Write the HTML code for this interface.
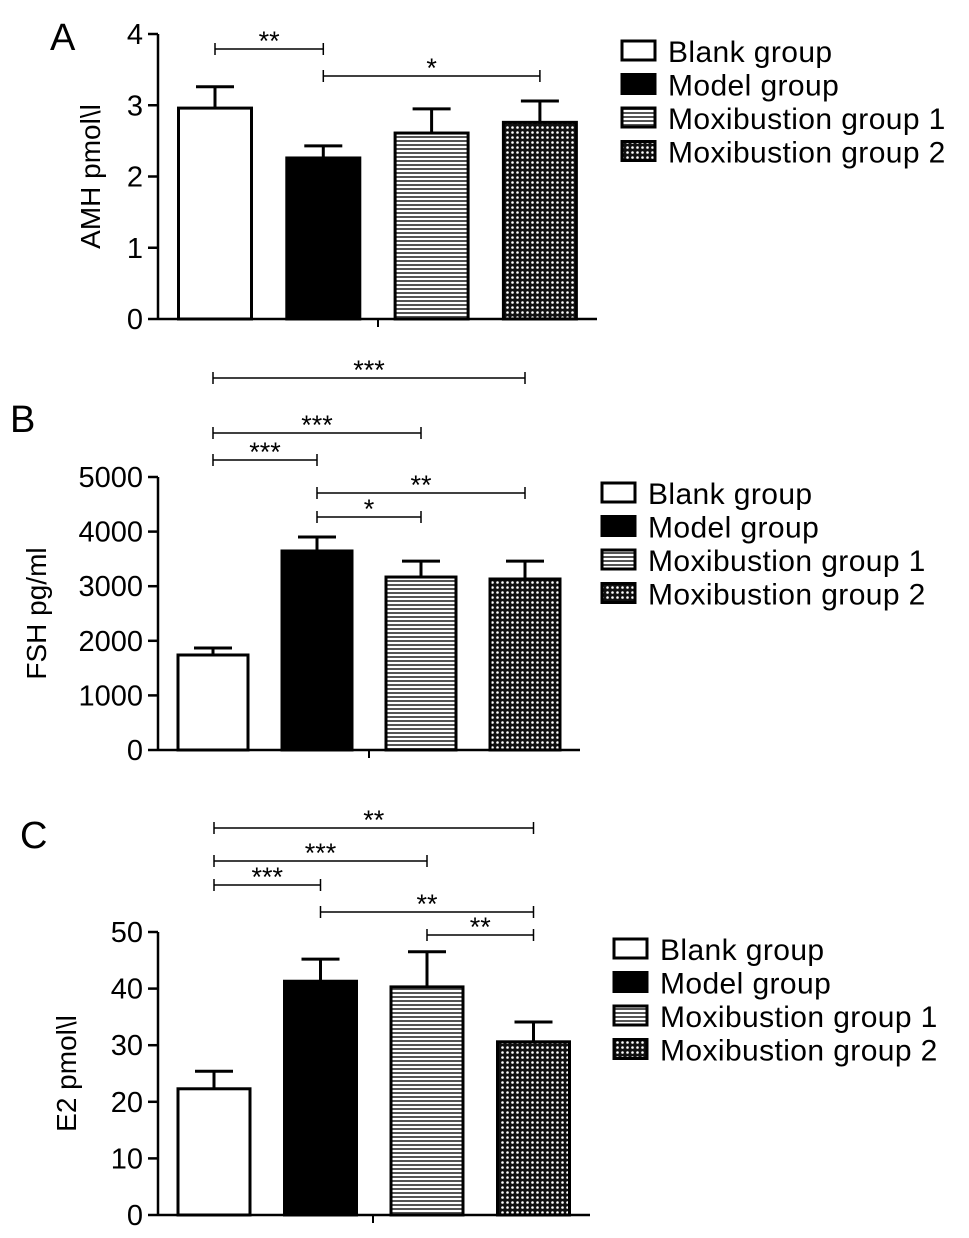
<!DOCTYPE html>
<html><head><meta charset="utf-8"><style>
body{margin:0;background:#fff}
svg{display:block}
text{font-family:"Liberation Sans",sans-serif;fill:#000}
</style></head><body>
<svg id="s" width="969" height="1238" viewBox="0 0 969 1238">
<defs>
<pattern id="stripe" width="8" height="4" patternUnits="userSpaceOnUse"><rect width="8" height="4" fill="#fff"/><rect width="8" height="2" fill="#555"/></pattern>
<pattern id="check" width="5" height="5" patternUnits="userSpaceOnUse"><rect width="5" height="5" fill="#111"/><circle cx="2.5" cy="2.5" r="1.3" fill="#fff"/></pattern>
</defs>
</svg>
<script>
const groups=["Blank group","Model group","Moxibustion group 1","Moxibustion group 2"];
const amhMean=[2.96,2.26,2.61,2.76];
const amhErr=[0.30,0.17,0.34,0.30];
const fshMean=[1740,3645,3168,3132];
const fshErr=[128,255,292,328];
const e2Mean=[22.3,41.3,40.3,30.6];
const e2Err=[3.1,3.9,6.2,3.5];
const amhTicks=[0,1,2,3,4];
const fshTicks=[0,1000,2000,3000,4000,5000];
const e2Ticks=[0,10,20,30,40,50];
const amhSig=[[0,1,"**"],[1,3,"*"]];
const fshSig=[[0,3,"***"],[0,2,"***"],[0,1,"***"],[1,3,"**"],[1,2,"*"]];
const e2Sig=[[0,3,"**"],[0,2,"***"],[0,1,"***"],[1,3,"**"],[2,3,"**"]];
const fills=["#fff","#000","url(#stripe)","url(#check)"];
const NS="http://www.w3.org/2000/svg";
const svg=document.getElementById('s');
function mk(t,a,p){const e=document.createElementNS(NS,t);for(const k in a)e.setAttribute(k,a[k]);(p||svg).appendChild(e);return e;}
function panel(o){
 const g=mk('g',{});
 
 
 const max=o.ticks[o.ticks.length-1];
 const y=v=>o.y0-(v/max)*(o.y0-o.yTop);
 const lt=mk('text',{x:o.letter[0],y:o.letter[1],'font-size':38},g);lt.textContent=o.lbl;
 
 mk('line',{x1:158,y1:o.yTop,x2:158,y2:o.y0,stroke:'#000','stroke-width':2.5},g);
 mk('line',{x1:158,y1:o.y0,x2:o.xEnd,y2:o.y0,stroke:'#000','stroke-width':2.5},g);
 mk('line',{x1:o.mid,y1:o.y0,x2:o.mid,y2:o.y0+8,stroke:'#000','stroke-width':2},g);
 o.ticks.forEach(t=>{mk('line',{x1:148,y1:y(t),x2:158,y2:y(t),stroke:'#000','stroke-width':2.5},g);
  const tx=mk('text',{x:143,y:y(t)+10,'font-size':29,'text-anchor':'end'},g);tx.textContent=t;
  });
 const yt=mk('text',{x:0,y:0,'font-size':28,'text-anchor':'middle',transform:`translate(${o.tx},${(o.y0+o.yTop)/2}) rotate(-90)`},g);yt.textContent=o.title;
 
 const cx=i=>o.x0+o.step*i;
 o.mean.forEach((m,i)=>{
  const b=mk('rect',{x:cx(i)-o.w/2,y:y(m),width:o.w,height:o.y0-y(m),fill:fills[i],stroke:'#000','stroke-width':3},g);
  
  const e=y(m+o.err[i]);
  mk('line',{x1:cx(i),y1:y(m),x2:cx(i),y2:e,stroke:'#000','stroke-width':3},g);
  mk('line',{x1:cx(i)-19,y1:e,x2:cx(i)+19,y2:e,stroke:'#000','stroke-width':3},g);
 });
 o.sig.forEach((s,k)=>{const yy=o.sigY[k];
  mk('line',{x1:cx(s[0]),y1:yy,x2:cx(s[1]),y2:yy,stroke:'#000','stroke-width':1.5},g);
  mk('line',{x1:cx(s[0]),y1:yy-6,x2:cx(s[0]),y2:yy+6,stroke:'#000','stroke-width':1.5},g);
  mk('line',{x1:cx(s[1]),y1:yy-6,x2:cx(s[1]),y2:yy+6,stroke:'#000','stroke-width':1.5},g);
  const st=mk('text',{x:(cx(s[0])+cx(s[1]))/2,y:yy+1,'font-size':27,'text-anchor':'middle'},g);st.textContent=s[2];
  });
 groups.forEach((n,i)=>{const ly=o.leg[1]+i*33.5;
  const r=mk('rect',{x:o.leg[0],y:ly-10,width:33,height:19,fill:fills[i],stroke:'#000','stroke-width':3},g);
  
  const t=mk('text',{x:o.leg[0]+46,y:ly+11,'font-size':30,'letter-spacing':0.4},g);t.textContent=n;
  });
}
panel({name:'panel-a-amh',lbl:'A',letter:[50,50],y0:319,yTop:34,ticks:amhTicks,mean:amhMean,err:amhErr,title:'AMH pmol\\l',tx:100,x0:215,step:108.3,w:73,xEnd:597,mid:378,sig:amhSig,sigY:[49,76],leg:[622,51]});
panel({name:'panel-b-fsh',lbl:'B',letter:[10,432],y0:750,yTop:477,ticks:fshTicks,mean:fshMean,err:fshErr,title:'FSH pg/ml',tx:46,x0:213,step:104,w:70,xEnd:580,mid:369,sig:fshSig,sigY:[378,433,460,493,517],leg:[602,493]});
panel({name:'panel-c-e2',lbl:'C',letter:[20,848],y0:1215,yTop:932,ticks:e2Ticks,mean:e2Mean,err:e2Err,title:'E2 pmol\\l',tx:76,x0:214,step:106.5,w:72,xEnd:590,mid:373,sig:e2Sig,sigY:[828,861,885,912,935],leg:[614,949]});
</script>
</body></html>
